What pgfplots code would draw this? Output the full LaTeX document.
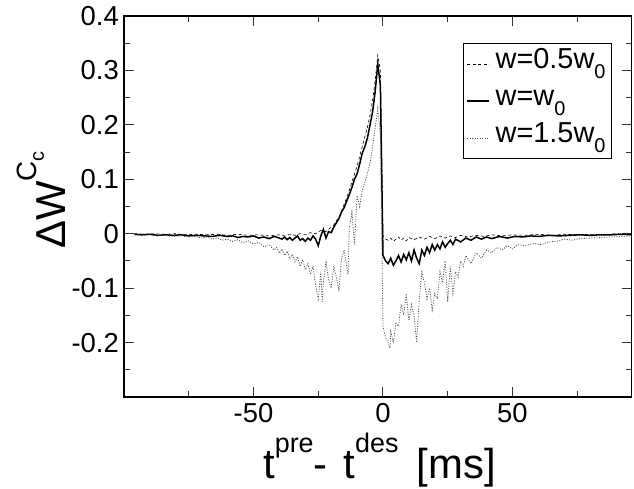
\documentclass[border=0pt]{standalone}
\usepackage{fontspec}
\setmainfont{Liberation Sans}
\usepackage{pgfplots}
\pgfplotsset{compat=1.18}
\newcommand\sub[1]{\raisebox{-10bp}{\fontsize{20}{20}\selectfont #1}}
\newcommand\sups[1]{\raisebox{26bp}{\fontsize{27}{27}\selectfont #1}}
\begin{document}
\begin{tikzpicture}
\begin{axis}[name=ax,
  scale only axis, width=507.6bp, height=381bp,
  xmin=-100, xmax=96, ymin=-0.3, ymax=0.4,
  axis line style={line width=1.5bp},
  xtick={-50,0,50}, xticklabels={-50,0,50},
  minor xtick={-75,-25,25,75},
  ytick={-0.2,-0.1,0,0.1,0.2,0.3,0.4},
  yticklabels={-0.2,-0.1,0,0.1,0.2,0.3,0.4},
  minor ytick={-0.25,-0.15,-0.05,0.05,0.15,0.25,0.35},
  major tick length=10bp, minor tick length=6bp,
  every tick/.style={line width=1bp, black!80},
  ticklabel style={font=\fontsize{27.5}{30}\selectfont, inner sep=0pt},
  xticklabel style={yshift=-6bp},
  yticklabel style={xshift=-5bp},
  xlabel={t\sups{pre}-\hspace{16bp}t\sups{des}\hspace{18bp}[ms]},
  xlabel style={at={(axis description cs:0.2738,0)}, anchor=base west, yshift=-81bp, inner sep=0pt, font=\fontsize{42}{42}\selectfont},
  ylabel={ΔW\raisebox{29bp}{\fontsize{28}{28}\selectfont C\raisebox{-7bp}{\fontsize{20}{20}\selectfont c}}},
  ylabel style={at={(axis description cs:-0.114,0.517)}, anchor=south, rotate=0, inner sep=0pt, font=\fontsize{42}{42}\selectfont},
  legend style={at={(1,1)}, anchor=north east, xshift=-19.6bp, yshift=-27bp,
    draw=black, line width=1bp, inner xsep=3.5bp, inner ysep=2bp,
    font=\fontsize{29}{30}\selectfont, row sep=0pt, column sep=3bp,
    nodes={inner sep=2.5bp, text height=21bp, text depth=11bp}},
  legend cell align=left,
  legend image code/.code={\draw[#1] (0bp,0bp) -- (22bp,0bp);},
]
\addplot[black, line width=0.6bp, dash pattern=on 3bp off 2.5bp] coordinates {
(-96,0.000) (-92,-0.001) (-88,0.000) (-84,-0.001) (-80,0.000) (-76,-0.002) (-72,-0.001) (-68,-0.002) (-64,-0.001) (-60,-0.003) (-56,-0.001) (-52,-0.003) (-48,-0.002) (-44,-0.004) (-40,-0.002) (-38,-0.004) (-36,-0.001) (-34,-0.003) (-32,0.000) (-30,-0.002) (-28,0.002) (-26,0.000) (-24,0.006) (-22,0.004) (-20,0.012) (-19,0.016) (-18,0.024) (-17,0.030) (-16,0.042) (-15,0.054) (-14,0.066) (-13,0.080) (-12,0.095) (-11,0.110) (-10,0.124) (-9,0.142) (-8,0.160) (-7,0.178) (-6,0.196) (-5,0.218) (-4,0.245) (-3,0.282) (-2,0.328) (-1,0.300) (0,-0.004) (1,-0.010) (2,-0.012) (3,-0.008) (4,-0.014) (5,-0.010) (6,-0.006) (7,-0.012) (8,-0.008) (9,-0.013) (10,-0.007) (12,-0.011) (14,-0.006) (16,-0.010) (18,-0.005) (20,-0.009) (22,-0.004) (24,-0.008) (26,-0.004) (28,-0.007) (30,-0.003) (33,-0.006) (36,-0.003) (39,-0.005) (42,-0.002) (46,-0.004) (50,-0.002) (55,-0.003) (60,-0.001) (65,-0.003) (70,-0.001) (75,-0.002) (80,-0.001) (85,-0.002) (90,0.000) (96,-0.001)
};
\addlegendentry{w=0.5w\sub{0}}
\addplot[black, line width=1.5bp] coordinates {
(-96,-0.001) (-93,-0.002) (-90,-0.001) (-87,-0.003) (-84,-0.002) (-81,-0.003) (-78,-0.002) (-75,-0.004) (-72,-0.003) (-69,-0.004) (-66,-0.005) (-63,-0.003) (-60,-0.005) (-58,-0.004) (-56,-0.007) (-54,-0.005) (-52,-0.006) (-50,-0.004) (-48,-0.008) (-46,-0.006) (-44,-0.009) (-42,-0.005) (-40,-0.008) (-39,-0.010) (-38,-0.006) (-37,-0.011) (-36,-0.007) (-35,-0.012) (-34,-0.008) (-33,-0.004) (-32,-0.012) (-31,-0.009) (-30,-0.014) (-29,-0.008) (-28,-0.012) (-27,-0.004) (-26,-0.010) (-25,-0.022) (-24,-0.004) (-23,0.008) (-22,-0.008) (-21,0.004) (-20,0.002) (-19,0.012) (-18,0.020) (-17,0.028) (-16,0.040) (-15,0.048) (-14,0.060) (-13,0.072) (-12,0.085) (-11,0.100) (-10,0.110) (-9,0.128) (-8,0.148) (-7,0.160) (-6,0.176) (-5,0.200) (-4,0.224) (-3,0.262) (-2,0.312) (-1,0.272) (0,-0.040) (1,-0.050) (2,-0.055) (3,-0.045) (4,-0.058) (5,-0.050) (6,-0.040) (7,-0.052) (8,-0.038) (9,-0.048) (10,-0.035) (11,-0.050) (12,-0.030) (13,-0.045) (14,-0.055) (15,-0.030) (16,-0.040) (17,-0.025) (18,-0.035) (19,-0.020) (20,-0.030) (21,-0.020) (22,-0.028) (23,-0.015) (24,-0.025) (25,-0.018) (26,-0.012) (27,-0.020) (28,-0.010) (30,-0.015) (32,-0.008) (34,-0.012) (36,-0.006) (38,-0.010) (40,-0.006) (42,-0.009) (45,-0.005) (48,-0.008) (51,-0.005) (54,-0.006) (57,-0.004) (60,-0.005) (64,-0.003) (68,-0.004) (72,-0.003) (76,-0.002) (80,-0.003) (84,-0.002) (88,-0.002) (92,-0.001) (96,-0.002)
};
\addlegendentry{w=w\sub{0}}
\addplot[black!70, line width=0.8bp, dash pattern=on 1bp off 1.5bp] coordinates {
(-96,-0.002) (-93,-0.003) (-90,-0.002) (-87,-0.004) (-84,-0.003) (-81,-0.005) (-78,-0.004) (-75,-0.006) (-72,-0.005) (-70,-0.008) (-68,-0.006) (-66,-0.010) (-64,-0.008) (-62,-0.012) (-60,-0.010) (-58,-0.014) (-56,-0.011) (-54,-0.017) (-52,-0.013) (-50,-0.019) (-48,-0.016) (-46,-0.024) (-44,-0.020) (-42,-0.030) (-41,-0.025) (-40,-0.036) (-39,-0.028) (-38,-0.040) (-37,-0.032) (-36,-0.046) (-35,-0.038) (-34,-0.052) (-33,-0.042) (-32,-0.060) (-31,-0.048) (-30,-0.066) (-29,-0.055) (-28,-0.075) (-27,-0.060) (-26,-0.095) (-25,-0.120) (-24,-0.070) (-23.5,-0.125) (-23,-0.090) (-22,-0.050) (-21,-0.085) (-20,-0.100) (-19,-0.060) (-18,-0.080) (-17,-0.105) (-16,-0.045) (-15,-0.030) (-14,-0.060) (-13.5,-0.075) (-13,0.010) (-12,0.040) (-11,-0.020) (-10,0.070) (-9,0.050) (-8,0.080) (-7,0.095) (-6,0.110) (-5,0.130) (-4,0.160) (-3,0.195) (-2,0.230) (-1,0.180) (0,-0.170) (1,-0.190) (2,-0.200) (2.7,-0.210) (3,-0.180) (4,-0.200) (5,-0.165) (6,-0.170) (7,-0.130) (8,-0.150) (9,-0.110) (10,-0.160) (11,-0.130) (12,-0.150) (13,-0.200) (14,-0.120) (15,-0.070) (16,-0.090) (17,-0.120) (18,-0.100) (19,-0.140) (20,-0.110) (21,-0.120) (22,-0.070) (23,-0.090) (24,-0.050) (25,-0.125) (26,-0.060) (27,-0.110) (28,-0.070) (29,-0.080) (30,-0.050) (31,-0.060) (32,-0.040) (34,-0.055) (36,-0.035) (38,-0.045) (40,-0.030) (42,-0.035) (44,-0.025) (46,-0.030) (48,-0.022) (50,-0.028) (52,-0.020) (55,-0.022) (58,-0.018) (61,-0.020) (64,-0.015) (67,-0.014) (70,-0.010) (73,-0.012) (76,-0.009) (80,-0.008) (84,-0.007) (88,-0.006) (92,-0.005) (96,-0.004)
};
\addlegendentry{w=1.5w\sub{0}}
\end{axis}
\pgfresetboundingbox
\path ([shift={(-124bp,-92bp)}]ax.south west) rectangle ([shift={(2.4bp,16bp)}]ax.north east);
\end{tikzpicture}
\end{document}
